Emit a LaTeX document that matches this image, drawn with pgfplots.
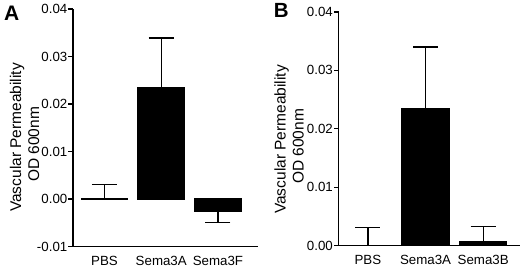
\documentclass[border=0pt]{standalone}
\usepackage{fontspec}
\setmainfont{Liberation Sans}
\usepackage{pgfplots}
\pgfplotsset{compat=1.18}
\usepackage{pgfplotstable}

\pgfplotstableread{
x y ep em
0 0.0000 0.0031 0
1 0.0234 0.0105 0
2 -0.0027 0 0.0022
}\dataA
\pgfplotstableread{
x y ep em
0 0.0000 0.0031 0
1 0.0234 0.0106 0
2 0.0007 0.0026 0
}\dataB

\pgfplotsset{
  panel/.style={
    scale only axis,
    anchor=south west,
    axis x line*=bottom, axis y line*=left,
    axis line style={line width=1.3bp,-},
    ybar, bar width=0.82,
    xtick={0,1,2},
    xtick style={draw=none},
    ytick style={line width=1.2bp,black},
    tick align=outside,
    major tick length=4.5bp,
    scaled y ticks=false,
    tick label style={font=\fontsize{13.3bp}{13.3bp}\selectfont},
    xticklabel style={inner sep=0pt, anchor=north, yshift=-4.7bp},
    yticklabel style={inner sep=1bp},
    clip=false,
  },
  errstyle/.style={fill=black, draw=black, line width=1.2bp,
    error bars/.cd, y dir=both, y explicit,
    error mark=|,
    error bar style={line width=1.2bp, black},
    error mark options={black, mark size=12.5bp, line width=1.2bp}},
}

\begin{document}
\begin{tikzpicture}
\useasboundingbox (0,0) rectangle (520bp,267bp);

\begin{axis}[panel,
  at={(73bp,20.5bp)}, width=185bp, height=237.5bp,
  xmin=-0.555, xmax=2.705,
  ymin=-0.01, ymax=0.04,
  ytick={-0.01,0,0.01,0.02,0.03,0.04},
  yticklabels={-0.01,0.00,0.01,0.02,0.03,0.04},
  xticklabels={PBS,Sema3A,Sema3F},
]
\addplot[errstyle]
  table[x=x, y=y, y error plus=ep, y error minus=em] {\dataA};
\end{axis}

\begin{axis}[panel,
  at={(338.5bp,21.5bp)}, width=181bp, height=233.5bp,
  xmin=-0.51, xmax=2.63,
  ymin=0, ymax=0.04,
  ytick={0,0.01,0.02,0.03,0.04},
  yticklabels={0.00,0.01,0.02,0.03,0.04},
  xticklabels={PBS,Sema3A,Sema3B},
]
\addplot[errstyle]
  table[x=x, y=y, y error plus=ep, y error minus=em] {\dataB};
\end{axis}

\node[rotate=90, align=center, inner sep=0pt, font=\fontsize{15.5bp}{18bp}\selectfont]
  at (24.5bp,129.5bp) {Vascular Permeability\\OD 600nm\hspace*{14bp}};
\node[rotate=90, align=center, inner sep=0pt, font=\fontsize{15.5bp}{18bp}\selectfont]
  at (289bp,127.5bp) {Vascular Permeability\\OD 600nm\hspace*{14bp}};

\node[inner sep=0pt, font=\fontsize{21bp}{21bp}\selectfont\bfseries] at (11.7bp,253.7bp) {A};
\node[inner sep=0pt, font=\fontsize{20.5bp}{20.5bp}\selectfont\bfseries] at (281.3bp,256.2bp) {B};
\end{tikzpicture}
\end{document}
